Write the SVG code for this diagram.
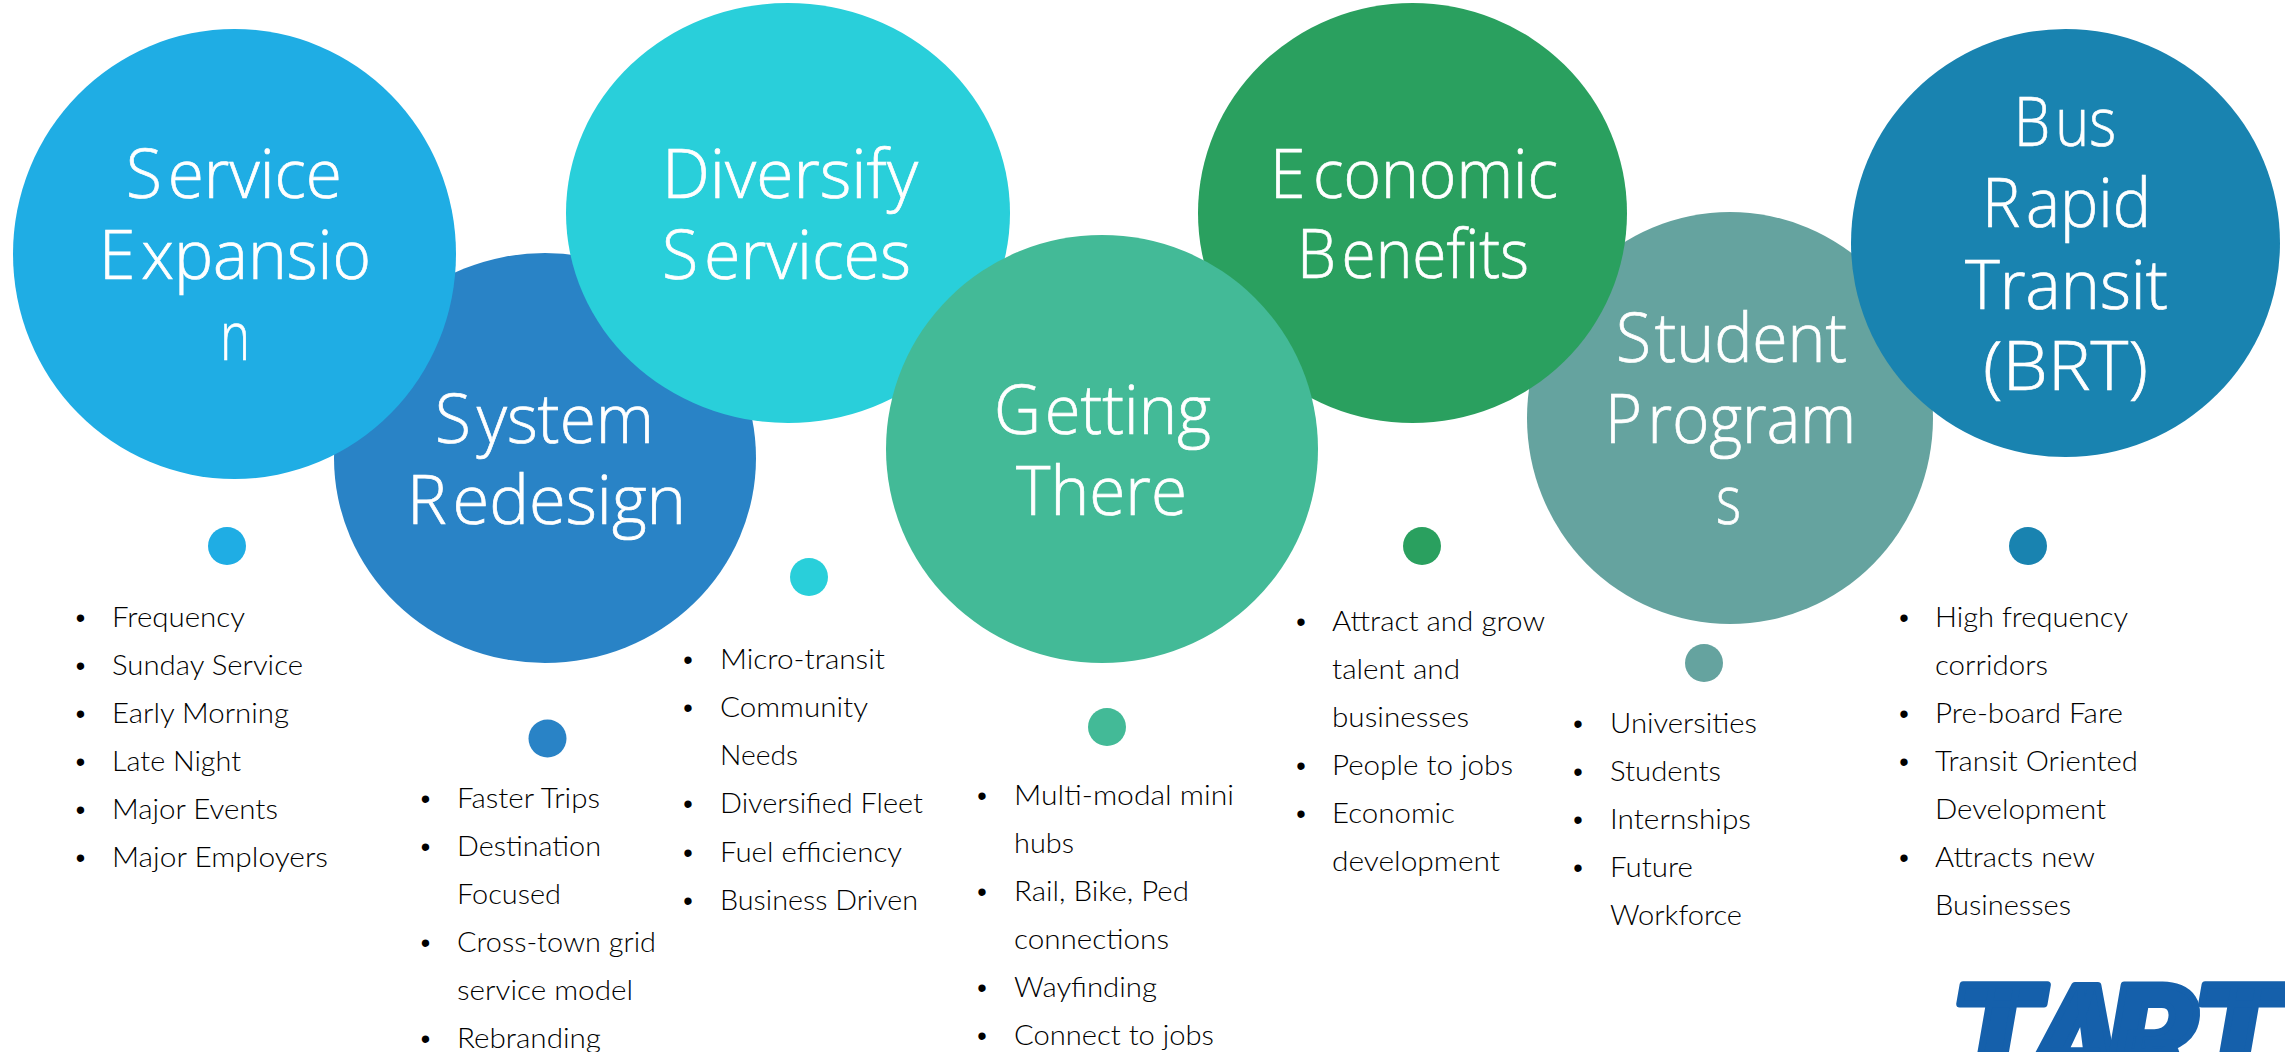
<svg xmlns="http://www.w3.org/2000/svg" width="2285" height="1052" viewBox="0 0 2285 1052">
<style>
.t{font-family:"Open Sans","Noto Sans",sans-serif;font-weight:300;font-size:68px;fill:#fff;stroke:#fff;stroke-width:.7px}
.l{font-family:Lato,"Liberation Sans",sans-serif;font-weight:300;font-size:28px;fill:#000}
.b{font-family:"Liberation Sans",Arial,sans-serif;font-size:27px;fill:#000;text-anchor:middle}
.logo{font-family:Roboto,"Liberation Sans",sans-serif;font-weight:900;font-style:italic;font-size:146px;fill:#1560AB;stroke:#1560AB;stroke-width:7px;stroke-linejoin:round}
</style>
<rect width="2285" height="1052" fill="#fff"/>
<g id="system-redesign">
<ellipse cx="545" cy="458" rx="211" ry="205" fill="#2983C6"/>
<text class="t" x="435" y="443" dx="0 6" textLength="219" lengthAdjust="spacingAndGlyphs">System</text>
<text class="t" x="407" y="524" dx="0 6" textLength="279" lengthAdjust="spacingAndGlyphs">Redesign</text>
<circle cx="547.5" cy="738.5" r="19" fill="#2983C6"/>
<text class="b" x="425.5" y="808">•</text><text class="l" x="457" y="808" textLength="143" lengthAdjust="spacingAndGlyphs">Faster Trips</text>
<text class="b" x="425.5" y="856">•</text><text class="l" x="457" y="856" textLength="144" lengthAdjust="spacingAndGlyphs">Destination</text>
<text class="l" x="457" y="904" textLength="104" lengthAdjust="spacingAndGlyphs">Focused</text>
<text class="b" x="425.5" y="952">•</text><text class="l" x="457" y="952" textLength="199" lengthAdjust="spacingAndGlyphs">Cross-town grid</text>
<text class="l" x="457" y="1000" textLength="176" lengthAdjust="spacingAndGlyphs">service model</text>
<text class="b" x="425.5" y="1048">•</text><text class="l" x="457" y="1048" textLength="144" lengthAdjust="spacingAndGlyphs">Rebranding</text>
</g>
<g id="service-expansion">
<ellipse cx="234.5" cy="254" rx="221.5" ry="225" fill="#1FADE4"/>
<text class="t" x="126" y="198" dx="0 6" textLength="216" lengthAdjust="spacingAndGlyphs">Service</text>
<text class="t" x="99" y="279" dx="0 6" textLength="272" lengthAdjust="spacingAndGlyphs">Expansio</text>
<text class="t" x="220" y="360" textLength="30" lengthAdjust="spacingAndGlyphs">n</text>
<circle cx="227" cy="546" r="19" fill="#1FADE4"/>
<text class="b" x="80.5" y="627">•</text><text class="l" x="112" y="627" textLength="133" lengthAdjust="spacingAndGlyphs">Frequency</text>
<text class="b" x="80.5" y="675">•</text><text class="l" x="112" y="675" textLength="191" lengthAdjust="spacingAndGlyphs">Sunday Service</text>
<text class="b" x="80.5" y="723">•</text><text class="l" x="112" y="723" textLength="177" lengthAdjust="spacingAndGlyphs">Early Morning</text>
<text class="b" x="80.5" y="771">•</text><text class="l" x="112" y="771" textLength="129" lengthAdjust="spacingAndGlyphs">Late Night</text>
<text class="b" x="80.5" y="819">•</text><text class="l" x="112" y="819" textLength="166" lengthAdjust="spacingAndGlyphs">Major Events</text>
<text class="b" x="80.5" y="867">•</text><text class="l" x="112" y="867" textLength="216" lengthAdjust="spacingAndGlyphs">Major Employers</text>
</g>
<g id="diversify-services">
<ellipse cx="788" cy="213" rx="222" ry="210" fill="#29CFDA"/>
<text class="t" x="662" y="198" textLength="256" lengthAdjust="spacingAndGlyphs">Diversify</text>
<text class="t" x="662" y="279" dx="0 6" textLength="249" lengthAdjust="spacingAndGlyphs">Services</text>
<circle cx="809" cy="577" r="19" fill="#29CFDA"/>
<text class="b" x="688" y="669">•</text><text class="l" x="720" y="669" textLength="165" lengthAdjust="spacingAndGlyphs">Micro-transit</text>
<text class="b" x="688" y="717">•</text><text class="l" x="720" y="717" textLength="148" lengthAdjust="spacingAndGlyphs">Community</text>
<text class="l" x="720" y="765" textLength="78" lengthAdjust="spacingAndGlyphs">Needs</text>
<text class="b" x="688" y="813">•</text><text class="l" x="720" y="813" textLength="203" lengthAdjust="spacingAndGlyphs">Diversified Fleet</text>
<text class="b" x="688" y="862">•</text><text class="l" x="720" y="862" textLength="182" lengthAdjust="spacingAndGlyphs">Fuel efficiency</text>
<text class="b" x="688" y="910">•</text><text class="l" x="720" y="910" textLength="198" lengthAdjust="spacingAndGlyphs">Business Driven</text>
</g>
<g id="student-programs">
<ellipse cx="1730" cy="418" rx="203" ry="206" fill="#65A39F"/>
<text class="t" x="1616" y="362" dx="0 4" textLength="231" lengthAdjust="spacingAndGlyphs">Student</text>
<text class="t" x="1605" y="443" dx="0 6" textLength="251" lengthAdjust="spacingAndGlyphs">Program</text>
<text class="t" x="1716" y="524" textLength="25" lengthAdjust="spacingAndGlyphs">s</text>
<circle cx="1704" cy="663" r="19" fill="#65A39F"/>
<text class="b" x="1578" y="733">•</text><text class="l" x="1610" y="733" textLength="147" lengthAdjust="spacingAndGlyphs">Universities</text>
<text class="b" x="1578" y="781">•</text><text class="l" x="1610" y="781" textLength="111" lengthAdjust="spacingAndGlyphs">Students</text>
<text class="b" x="1578" y="829">•</text><text class="l" x="1610" y="829" textLength="141" lengthAdjust="spacingAndGlyphs">Internships</text>
<text class="b" x="1578" y="877">•</text><text class="l" x="1610" y="877" textLength="83" lengthAdjust="spacingAndGlyphs">Future</text>
<text class="l" x="1610" y="925" textLength="132" lengthAdjust="spacingAndGlyphs">Workforce</text>
</g>
<g id="economic-benefits">
<ellipse cx="1412.5" cy="213" rx="214.5" ry="210" fill="#2AA05F"/>
<text class="t" x="1270" y="198" dx="0 8" textLength="288" lengthAdjust="spacingAndGlyphs">Economic</text>
<text class="t" x="1297" y="278" dx="0 6" textLength="232" lengthAdjust="spacingAndGlyphs">Benefits</text>
<circle cx="1422" cy="546" r="19" fill="#2AA05F"/>
<text class="b" x="1301" y="631">•</text><text class="l" x="1332" y="631" textLength="213" lengthAdjust="spacingAndGlyphs">Attract and grow</text>
<text class="l" x="1332" y="679" textLength="128" lengthAdjust="spacingAndGlyphs">talent and</text>
<text class="l" x="1332" y="727" textLength="137" lengthAdjust="spacingAndGlyphs">businesses</text>
<text class="b" x="1301" y="775">•</text><text class="l" x="1332" y="775" textLength="181" lengthAdjust="spacingAndGlyphs">People to jobs</text>
<text class="b" x="1301" y="823">•</text><text class="l" x="1332" y="823" textLength="123" lengthAdjust="spacingAndGlyphs">Economic</text>
<text class="l" x="1332" y="871" textLength="168" lengthAdjust="spacingAndGlyphs">development</text>
</g>
<g id="getting-there">
<ellipse cx="1102" cy="449" rx="216" ry="214" fill="#43BA97"/>
<text class="t" x="994" y="434" dx="0 4" textLength="217" lengthAdjust="spacingAndGlyphs">Getting</text>
<text class="t" x="1016" y="515" textLength="171" lengthAdjust="spacingAndGlyphs">There</text>
<circle cx="1107" cy="727" r="19" fill="#43BA97"/>
<text class="b" x="982" y="805">•</text><text class="l" x="1014" y="805" textLength="220" lengthAdjust="spacingAndGlyphs">Multi-modal mini</text>
<text class="l" x="1014" y="853" textLength="60" lengthAdjust="spacingAndGlyphs">hubs</text>
<text class="b" x="982" y="901">•</text><text class="l" x="1014" y="901" textLength="175" lengthAdjust="spacingAndGlyphs">Rail, Bike, Ped</text>
<text class="l" x="1014" y="949" textLength="155" lengthAdjust="spacingAndGlyphs">connections</text>
<text class="b" x="982" y="997">•</text><text class="l" x="1014" y="997" textLength="143" lengthAdjust="spacingAndGlyphs">Wayfinding</text>
<text class="b" x="982" y="1045">•</text><text class="l" x="1014" y="1045" textLength="200" lengthAdjust="spacingAndGlyphs">Connect to jobs</text>
</g>
<g id="bus-rapid-transit">
<ellipse cx="2065.5" cy="243" rx="214.5" ry="214" fill="#1983B0"/>
<text class="t" x="2014" y="146" dx="0 6" textLength="102" lengthAdjust="spacingAndGlyphs">Bus</text>
<text class="t" x="1982" y="227" dx="0 6" textLength="169" lengthAdjust="spacingAndGlyphs">Rapid</text>
<text class="t" x="1965" y="309" textLength="203" lengthAdjust="spacingAndGlyphs">Transit</text>
<text class="t" x="1983" y="390" textLength="165" lengthAdjust="spacingAndGlyphs">(BRT)</text>
<circle cx="2028" cy="546" r="19" fill="#1983B0"/>
<text class="b" x="1904" y="627">•</text><text class="l" x="1935" y="627" textLength="193" lengthAdjust="spacingAndGlyphs">High frequency</text>
<text class="l" x="1935" y="675" textLength="113" lengthAdjust="spacingAndGlyphs">corridors</text>
<text class="b" x="1904" y="723">•</text><text class="l" x="1935" y="723" textLength="188" lengthAdjust="spacingAndGlyphs">Pre-board Fare</text>
<text class="b" x="1904" y="771">•</text><text class="l" x="1935" y="771" textLength="203" lengthAdjust="spacingAndGlyphs">Transit Oriented</text>
<text class="l" x="1935" y="819" textLength="171" lengthAdjust="spacingAndGlyphs">Development</text>
<text class="b" x="1904" y="867">•</text><text class="l" x="1935" y="867" textLength="160" lengthAdjust="spacingAndGlyphs">Attracts new</text>
<text class="l" x="1935" y="915" textLength="136" lengthAdjust="spacingAndGlyphs">Businesses</text>
</g>
<g id="logo">
<text class="logo" x="1950 2028 2106 2192" y="1089">TART</text>
</g>
</svg>
